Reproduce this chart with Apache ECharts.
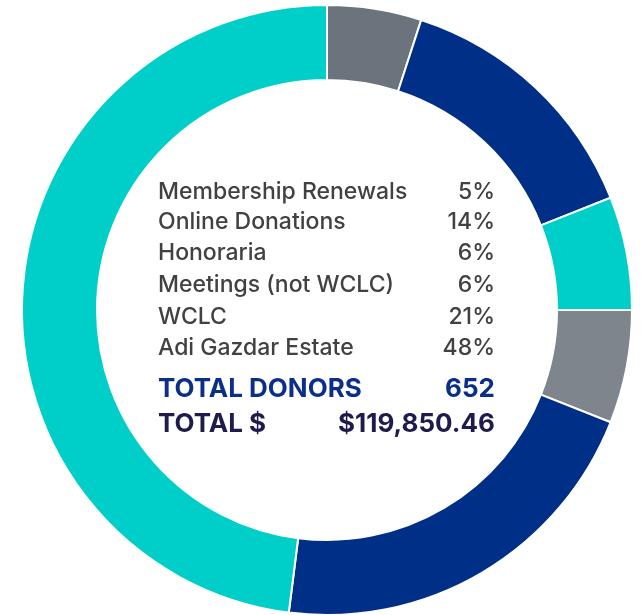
<!DOCTYPE html>
<html>
<head>
<meta charset="utf-8">
<script src="https://cdn.jsdelivr.net/npm/echarts@6/dist/echarts.min.js"></script>
<style>
  html, body { margin: 0; padding: 0; background: #fff; }
  #main { width: 641px; height: 615px; }
</style>
</head>
<body>
<div id="main"></div>
<script>
// slices, clockwise from 12 o'clock
var categories = ['Membership Renewals', 'Online Donations', 'Honoraria', 'Meetings (not WCLC)', 'WCLC', 'Adi Gazdar Estate'];
var percents = [5, 14, 6, 6, 21, 48];
var sliceColors = ['#6b747c', '#002f87', '#00cec9', '#7e858c', '#002f87', '#00cec9'];

var totalLabels = ['TOTAL DONORS', 'TOTAL $'];
var totalValues = ['652', '$119,850.46'];

var FONT = 'Inter, "Open Sans", sans-serif';

var chart = echarts.init(document.getElementById('main'));

// centre legend text
var texts = [];
var rowY = [192, 222, 253, 285, 317, 348];
categories.forEach(function (name, i) {
    texts.push({
        type: 'text', x: 158, y: rowY[i],
        style: { text: name, fill: '#414042', font: '500 23px ' + FONT, textVerticalAlign: 'middle' }
    });
    texts.push({
        type: 'text', x: 495, y: rowY[i],
        style: { text: percents[i] + '%', fill: '#414042', font: '500 23px ' + FONT, textAlign: 'right', textVerticalAlign: 'middle' }
    });
});
var totalY = [389, 424];
var totalColors = ['#0b2f88', '#1f1b4f'];
totalLabels.forEach(function (t, i) {
    texts.push({
        type: 'text', x: 158, y: totalY[i],
        style: { text: t, fill: totalColors[i], font: 'bold 26px ' + FONT, textVerticalAlign: 'middle' }
    });
    texts.push({
        type: 'text', x: 495, y: totalY[i],
        style: { text: totalValues[i], fill: totalColors[i], font: 'bold 26px ' + FONT, textAlign: 'right', textVerticalAlign: 'middle' }
    });
});

chart.setOption({
    animation: false,
    series: [{
        type: 'pie',
        center: [327, 310],
        radius: [230, 305],
        startAngle: 90,
        clockwise: true,
        silent: true,
        label: { show: false },
        labelLine: { show: false },
        itemStyle: { borderColor: '#fff', borderWidth: 2 },
        data: categories.map(function (c, i) {
            return { name: c, value: percents[i], itemStyle: { color: sliceColors[i] } };
        })
    }],
    graphic: texts
});
</script>
</body>
</html>
